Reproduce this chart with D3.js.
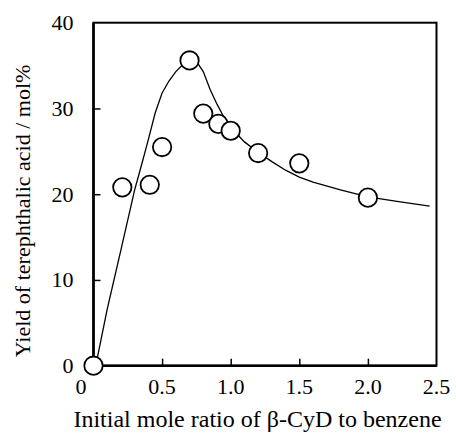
<!DOCTYPE html>
<html>
<head>
<meta charset="utf-8">
<script src="https://cdn.jsdelivr.net/npm/d3@7"></script>
<style>
  html, body { margin: 0; padding: 0; background: #fff; }
  svg { display: block; font-family: "Liberation Serif", "DejaVu Serif", serif; }
</style>
</head>
<body>
<svg id="chart" width="456" height="433"></svg>
<script>
// measured points: mole ratio vs yield
const ratio = [0, 0.21, 0.41, 0.5, 0.7, 0.8, 0.91, 1.0, 1.2, 1.5, 2.0];
const yieldPct = [0, 20.8, 21.1, 25.5, 35.6, 29.4, 28.2, 27.4, 24.8, 23.6, 19.6];

// model curve
const curveX = [0.02, 0.1, 0.2, 0.3, 0.35, 0.4, 0.45, 0.5, 0.55, 0.6, 0.65, 0.7, 0.75, 0.8, 0.85, 0.9, 0.95, 1.0, 1.1, 1.2, 1.3, 1.4, 1.5, 1.6, 1.8, 2.0, 2.2, 2.45];
const curveY = [0.3, 6.6, 13.5, 20.5, 23.4, 26.4, 29.5, 31.8, 33.2, 34.3, 35.1, 35.8, 35.5, 34.3, 32.2, 30.5, 29.0, 27.8, 26.1, 24.9, 23.8, 22.8, 22.0, 21.4, 20.5, 19.7, 19.2, 18.6];

const xTicks = [0.5, 1.0, 1.5, 2.0, 2.5];
const yTicks = [0, 10, 20, 30, 40];

const margin = {left: 93.5, right: 436.5, top: 22.7, bottom: 365.7};

const svg = d3.select("#chart");

const x = d3.scaleLinear().domain([0, 2.5]).range([margin.left, margin.right]);
const y = d3.scaleLinear().domain([0, 40]).range([margin.bottom, margin.top]);

// inward ticks
svg.append("g")
  .attr("transform", `translate(0,${margin.bottom})`)
  .call(d3.axisBottom(x).tickValues(xTicks.slice(0, -1)).tickSize(-7).tickFormat(""))
  .call(g => g.select(".domain").remove())
  .call(g => g.selectAll("line").attr("stroke", "#000").attr("stroke-width", 1.5));

svg.append("g")
  .attr("transform", `translate(${margin.left},0)`)
  .call(d3.axisLeft(y).tickValues(yTicks.slice(1, -1)).tickSize(-7).tickFormat(""))
  .call(g => g.select(".domain").remove())
  .call(g => g.selectAll("line").attr("stroke", "#000").attr("stroke-width", 1.5));

// frame
svg.append("rect")
  .attr("x", margin.left).attr("y", margin.top)
  .attr("width", margin.right - margin.left)
  .attr("height", margin.bottom - margin.top)
  .attr("fill", "none").attr("stroke", "#000").attr("stroke-width", 2);
svg.append("path")
  .attr("d", `M${margin.left},${margin.top}V${margin.bottom}H${margin.right}`)
  .attr("fill", "none").attr("stroke", "#000").attr("stroke-width", 2.6);

// tick labels
svg.append("g")
  .selectAll("text")
  .data(xTicks)
  .join("text")
  .attr("x", d => x(d))
  .attr("y", 394)
  .attr("text-anchor", "middle")
  .attr("font-size", 22)
  .text(d => d3.format(".1f")(d));

svg.append("text")
  .attr("x", 81).attr("y", 394)
  .attr("text-anchor", "middle")
  .attr("font-size", 22)
  .text("0");

svg.append("g")
  .selectAll("text")
  .data(yTicks)
  .join("text")
  .attr("x", 73.5)
  .attr("y", d => y(d) + 7.5)
  .attr("text-anchor", "end")
  .attr("font-size", 22)
  .text(d => d);

// model curve
const line = d3.line()
  .x((d, i) => x(curveX[i]))
  .y(d => y(d));

svg.append("path")
  .datum(curveY)
  .attr("d", line)
  .attr("fill", "none")
  .attr("stroke", "#000")
  .attr("stroke-width", 1.3);

// data points
svg.append("g")
  .selectAll("circle")
  .data(ratio)
  .join("circle")
  .attr("cx", d => x(d))
  .attr("cy", (d, i) => y(yieldPct[i]))
  .attr("r", 9.2)
  .attr("fill", "#fff")
  .attr("stroke", "#000")
  .attr("stroke-width", 1.8);

// axis titles
svg.append("text")
  .attr("x", 257.5).attr("y", 427)
  .attr("text-anchor", "middle")
  .attr("font-size", 24)
  .text("Initial mole ratio of β-CyD to benzene");

svg.append("text")
  .attr("transform", "translate(29.5,211) rotate(-90)")
  .attr("text-anchor", "middle")
  .attr("font-size", 22)
  .text("Yield of terephthalic acid / mol%");
</script>
</body>
</html>
